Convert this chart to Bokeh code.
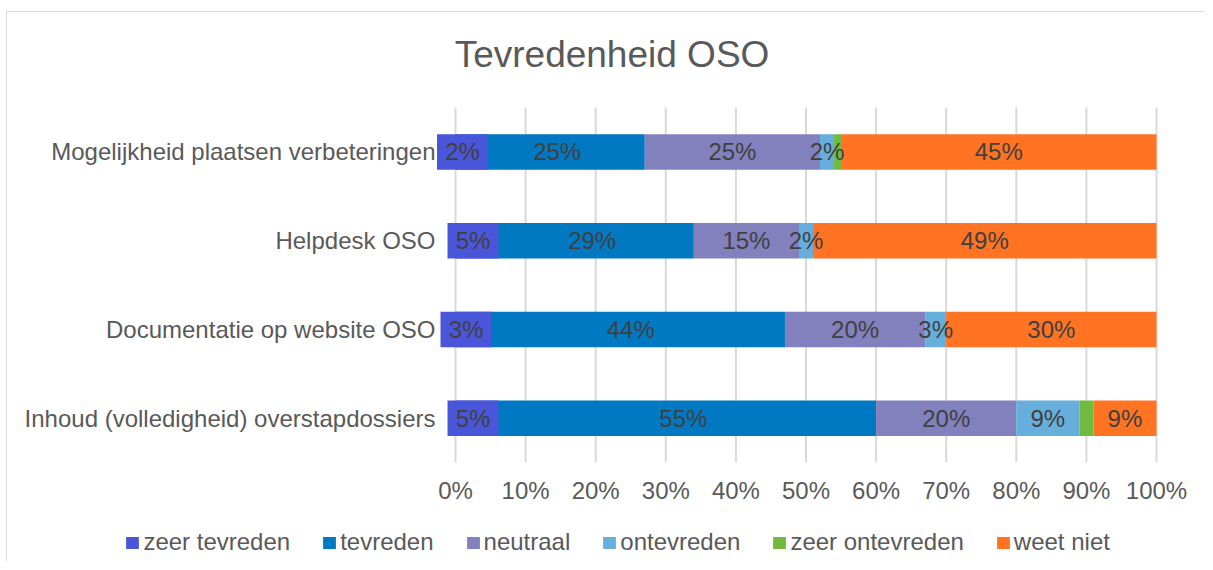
from bokeh.plotting import figure
from bokeh.models import (Range1d, FixedTicker, ColumnDataSource,
                          Legend, LegendItem)
from bokeh.layouts import column
from bokeh.embed import file_html
from bokeh.resources import INLINE
from bokeh.core.properties import value

# ---------------- data ----------------
title_text = "Tevredenheid OSO"
categories = ["Inhoud (volledigheid) overstapdossiers",
              "Documentatie op website OSO",
              "Helpdesk OSO",
              "Mogelijkheid plaatsen verbeteringen"]
series = ["zeer tevreden", "tevreden", "neutraal", "ontevreden",
          "zeer ontevreden", "weet niet"]
zeer_tevreden = [5, 3, 5, 2]
tevreden = [55, 44, 29, 25]
neutraal = [20, 20, 15, 25]
ontevreden = [9, 3, 2, 2]
zeer_ontevreden = [2, 0, 0, 1]
weet_niet = [9, 30, 49, 45]
show_labels = [True, True, True, True, False, True]
colors = ["#4A56D9", "#0079C2", "#8281BD", "#66AFDC", "#70BA40", "#FF7322"]
x_ticks = [0, 10, 20, 30, 40, 50, 60, 70, 80, 90, 100]
x_tick_labels = [f"{t}%" for t in x_ticks]

values = [zeer_tevreden, tevreden, neutraal, ontevreden, zeer_ontevreden, weet_niet]

FONT = "Liberation Sans"

# ---------------- layout constants (page pixels) ----------------
OX, OY = 8, 13          # where the bordered chart content starts
RIGHT = 1205            # right edge of the content
MAIN_BOTTOM = 515       # bottom of the main figure
LEG_BOTTOM = 562        # bottom of the legend strip
FRAME_B = 463           # bottom of the bar area
X0_PX, X100_PX = 456, 1157   # where 0% and 100% sit
CAT_PX = 88.75          # height of one category band
TITLE_X, TITLE_Y = 612.5, 55
LEG_X = 127             # left edge of the first legend swatch
KX = (X100_PX - X0_PX) / 100.0


def px_to_x(px):
    return (px - X0_PX) / KX


W = RIGHT - OX
H_MAIN = MAIN_BOTTOM - OY
H_LEG = LEG_BOTTOM - MAIN_BOTTOM
frame_h = FRAME_B - OY

x_start, x_end = px_to_x(OX), px_to_x(RIGHT)
y_end = frame_h / CAT_PX
n = len(categories)
ypos = [k + 0.5 for k in range(n)]

p = figure(width=W, height=H_MAIN, output_backend="svg", toolbar_location=None,
           x_range=Range1d(x_start, x_end), y_range=Range1d(0, y_end),
           min_border_left=0, min_border_right=0,
           min_border_top=0, min_border_bottom=H_MAIN - frame_h)
p.outline_line_color = None
p.background_fill_color = "white"
p.border_fill_color = "white"
p.xgrid.grid_line_color = None
p.ygrid.grid_line_color = None
p.yaxis.visible = False

# vertical gridlines over the category area
p.segment(x0=x_ticks, x1=x_ticks, y0=[0] * len(x_ticks), y1=[n] * len(x_ticks),
          line_color="#D9D9D9", line_width=2)

# x axis
p.xaxis.ticker = FixedTicker(ticks=x_ticks)
p.xaxis.major_label_overrides = {t: l for t, l in zip(x_ticks, x_tick_labels)}
p.xaxis.axis_line_color = None
p.xaxis.major_tick_line_color = None
p.xaxis.minor_tick_line_color = None
p.xaxis.major_tick_out = 0
p.xaxis.major_label_standoff = 14
p.xaxis.major_label_text_font = FONT
p.xaxis.major_label_text_font_size = "24px"
p.xaxis.major_label_text_color = "#595959"

# stacked bars
BAR_H = 0.4
label_sources = []
left = [0] * n
for i, (name, vals) in enumerate(zip(series, values)):
    right = [a + b for a, b in zip(left, vals)]
    src = ColumnDataSource(dict(y=ypos, left=left, right=right))
    p.hbar(y="y", left="left", right="right", height=BAR_H, source=src,
           fill_color=colors[i], line_color=None)
    if show_labels[i]:
        ys = [c for c, v in zip(ypos, vals) if v > 0]
        xs = [(a + b) / 2 for a, b, v in zip(left, right, vals) if v > 0]
        txt = [f"{v}%" for v in vals if v > 0]
        label_sources.append((i, ColumnDataSource(dict(x=xs, y=ys, t=txt))))
    left = right

# data labels (drawn on top of all bars)
for i, lsrc in label_sources:
    if i == 0:
        # data label box filled with the series colour
        p.rect(x="x", y="y", width=51, width_units="screen", height=BAR_H,
               source=lsrc, fill_color=colors[i], line_color=None)
for i, lsrc in label_sources:
    p.text(x="x", y="y", text="t", source=lsrc, text_align="center",
           text_baseline="middle", text_font=value(FONT),
           text_font_size="24px", text_color="#404040")

# category labels
p.text(x=[0] * n, y=ypos, text=categories, x_offset=-20,
       text_align="right", text_baseline="middle", text_font=value(FONT),
       text_font_size="24px", text_color="#595959")

# title
p.text(x=[px_to_x(TITLE_X)], y=[(FRAME_B - TITLE_Y) / CAT_PX],
       text=[title_text], text_align="center",
       text_baseline="middle", text_font=value(FONT),
       text_font_size="37px", text_color="#595959")

# ---------------- legend strip ----------------
lg = figure(width=W, height=H_LEG, output_backend="svg", toolbar_location=None,
            x_range=Range1d(0, 1), y_range=Range1d(0, 1),
            x_axis_type=None, y_axis_type=None,
            min_border_left=0, min_border_right=0,
            min_border_top=0, min_border_bottom=0)
lg.outline_line_color = None
lg.background_fill_color = "white"
lg.border_fill_color = "white"
items = []
for i, name in enumerate(series):
    # zero-width stand-in renderer, only used for the legend swatch
    r = lg.hbar(y=[0], left=[0], right=[0], height=0, fill_color=colors[i],
                line_color=None)
    items.append(LegendItem(label=name, renderers=[r]))
legend = Legend(items=items, orientation="horizontal",
                location=(LEG_X - OX - 1.6, 5))
legend.label_text_font = FONT
legend.label_text_font_size = "24px"
legend.label_text_color = "#595959"
legend.glyph_width = 16
legend.glyph_height = 15
legend.label_standoff = 3
legend.spacing = 31
legend.padding = 0
legend.margin = 0
legend.border_line_color = None
legend.background_fill_alpha = 0
lg.add_layout(legend, "center")

layout = column(p, lg, spacing=0)
layout.styles = {"margin-left": f"{OX - 2}px", "margin-top": f"{OY - 2}px",
                 "border-left": "1px solid #D9D9D9",
                 "border-top": "1px solid #D9D9D9"}
open("out.html", "w").write(file_html(layout, INLINE))
